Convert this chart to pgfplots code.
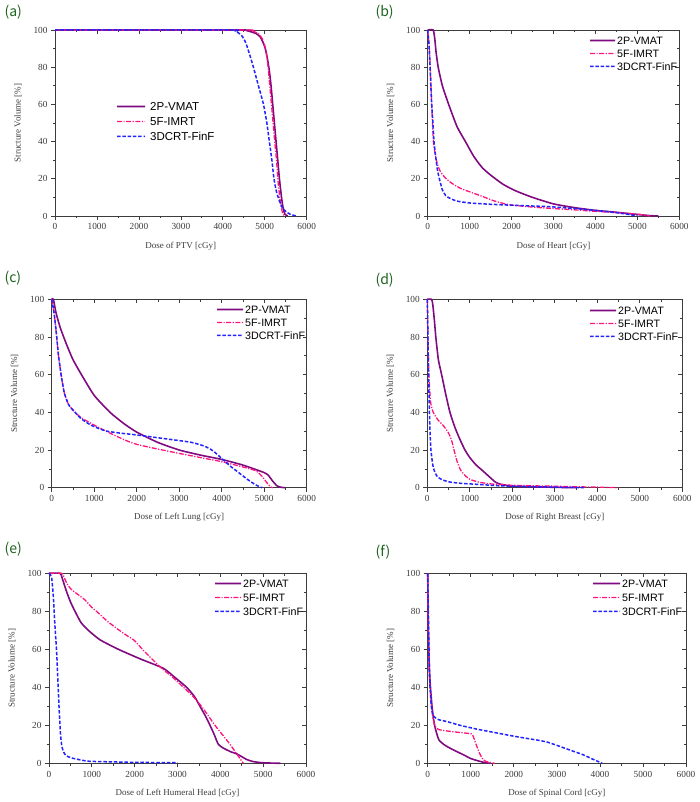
\documentclass[border=0pt]{standalone}
\usepackage{fontspec}
\setmainfont{Liberation Serif}
\newfontfamily\arial{Liberation Sans}
\newfontfamily\cjk{Noto Sans CJK SC}
\usepackage{pgfplots}
\pgfplotsset{compat=1.18}
\definecolor{cVMAT}{RGB}{128,10,128}
\definecolor{cIMRT}{RGB}{255,20,125}
\definecolor{cTD}{RGB}{35,35,255}
\definecolor{axgray}{RGB}{60,60,60}
\definecolor{labgreen}{RGB}{30,100,30}
\tikzset{
  vmat/.style={color=cVMAT, draw=cVMAT, line width=1.6pt, solid},
  imrt/.style={color=cIMRT, draw=cIMRT, line width=1.3pt, dash pattern=on 5pt off 1.5pt on 1.2pt off 1.5pt},
  tdc/.style={color=cTD, draw=cTD, line width=1.5pt, dash pattern=on 3.5pt off 1.8pt},
  legtext/.style={anchor=west, xshift=2pt, inner sep=0pt, text=black, font=\arial\fontsize{10.7}{12}\selectfont},
}
\pgfplotsset{
  base/.style={scale only axis, anchor=south west, xmin=0, xmax=6000, ymin=0, ymax=100,
    xtick={0,1000,...,6000}, ytick={0,20,...,100}, minor x tick num=1, minor y tick num=1,
    axis line style={draw=axgray, line width=0.8pt},
    every tick/.style={draw=axgray, line width=0.7pt},
    major tick length=4pt, minor tick length=2.5pt,
    /pgf/number format/1000 sep={}, /pgf/number format/assume math mode=true,
    scaled x ticks=false, no markers, clip=false},
  mainax/.style={base, xtick pos=left, ytick pos=left, tick align=outside,
    ticklabel style={font=\fontsize{9.3}{10}\selectfont, text=axgray},
    ylabel={Structure Volume [\%]},
    every axis y label/.style={at={([xshift=-37pt]axis description cs:0,0.5)}, rotate=90, anchor=center, font=\fontsize{9}{10}\selectfont, text=axgray},
    every axis x label/.style={at={([yshift=-30pt]axis description cs:0.5,0)}, anchor=center, font=\fontsize{9}{10}\selectfont, text=axgray}},
  overax/.style={base, xtick pos=right, ytick pos=right, tick align=inside,
    xticklabels={}, yticklabels={}},
  legax/.style={scale only axis, anchor=south west, xmin=0, xmax=1, ymin=0, ymax=2,
    hide axis, clip=false, no markers},
}
\newcommand\plab[1]{{\cjk\fontsize{14}{15}\selectfont #1}}
\newcommand\legplots{%
\addplot[vmat, smooth] coordinates {(0,2)(0.5,2.001)(1,2)};
\addplot[imrt, smooth] coordinates {(0,1)(0.5,1.001)(1,1)};
\addplot[tdc, smooth] coordinates {(0,0)(0.5,0.001)(1,0)};}
\begin{document}
\begin{tikzpicture}
\path[use as bounding box] (0,0) rectangle (700pt,802pt);
% ---------------- (a)
\node[anchor=west, text=labgreen] at (1pt,790pt) {\plab{(a)}};
\begin{axis}[overax, at={(55pt,586pt)}, width=251.7pt, height=186pt]\end{axis}
\begin{axis}[mainax, at={(55pt,586pt)}, width=251.7pt, height=186pt,
  xlabel={Dose of PTV [cGy]}]
\addplot[vmat, smooth, tension=0.35] coordinates {(0,100)(4400,100)(4600,99.5)(4800,98)(4900,96)(5000,91)(5060,85)(5110,78)(5150,70)(5190,60)(5230,50)(5270,40)(5310,30)(5350,20)(5400,10)(5440,4)(5480,1)(5550,0)};
\addplot[imrt, smooth, tension=0.35] coordinates {(0,100)(4500,100)(4700,99.5)(4850,98)(4950,95)(5030,89)(5080,80)(5140,65)(5180,55)(5230,42)(5280,30)(5320,18)(5370,8)(5420,2)(5470,0)};
\addplot[tdc, smooth, tension=0.35] coordinates {(0,100)(4200,100)(4300,99.5)(4450,97)(4550,93)(4650,86)(4730,80)(4850,70)(4970,60)(5050,50)(5110,40)(5170,30)(5220,20)(5280,13)(5350,8)(5420,4.5)(5500,2.5)(5600,1)(5700,0.3)(5760,0)};
\end{axis}
\begin{axis}[legax, at={(117pt,665.5pt)}, width=28pt, height=30pt]
\legplots
\node[legtext, font=\arial\fontsize{11.5}{13}\selectfont, xshift=3pt] at (axis cs:1,2) {2P-VMAT};
\node[legtext, font=\arial\fontsize{11.5}{13}\selectfont, xshift=3pt] at (axis cs:1,1) {5F-IMRT};
\node[legtext, font=\arial\fontsize{11.5}{13}\selectfont, xshift=3pt] at (axis cs:1,0) {3DCRT-FinF};
\end{axis}
% ---------------- (b)
\node[anchor=west, text=labgreen] at (372pt,790pt) {\plab{(b)}};
\begin{axis}[overax, at={(427.7pt,586pt)}, width=251.6pt, height=186pt]\end{axis}
\begin{axis}[mainax, at={(427.7pt,586pt)}, width=251.6pt, height=186pt,
  xlabel={Dose of Heart [cGy]}]
\addplot[vmat, smooth, tension=0.35] coordinates {(0,100)(130,100)(170,95)(200,88)(250,80)(350,70)(500,60)(700,48)(900,40)(1100,32)(1300,26)(1500,22)(1800,17)(2100,13.5)(2500,10)(3000,6.5)(3500,4.5)(4000,3)(4500,2)(5000,0.8)(5300,0.2)(5500,0)};
\addplot[imrt, smooth, tension=0.35] coordinates {(0,100)(40,90)(70,75)(95,60)(115,50)(135,40)(180,33)(230,28)(300,24)(400,21)(550,18)(770,15)(1000,13)(1330,10.3)(1600,8)(1960,6)(2500,4.8)(3000,4)(3500,3.3)(4000,2.5)(4500,1.8)(5000,1)(5300,0)};
\addplot[tdc, smooth, tension=0.35] coordinates {(0,100)(30,92)(55,80)(95,60)(125,50)(150,40)(190,32)(230,25)(278,20)(350,14)(430,11)(530,9.5)(700,8)(1000,7)(1500,6.3)(2000,5.8)(2900,5)(3500,4)(4000,3)(4500,1.8)(4800,0.8)(5000,0)};
\end{axis}
\begin{axis}[legax, at={(590pt,735.5pt)}, width=25pt, height=26pt]
\legplots
\node[legtext] at (axis cs:1,2) {2P-VMAT};
\node[legtext] at (axis cs:1,1) {5F-IMRT};
\node[legtext] at (axis cs:1,0) {3DCRT-FinF};
\end{axis}
% ---------------- (c)
\node[anchor=west, text=labgreen] at (1pt,524pt) {\plab{(c)}};
\begin{axis}[overax, at={(51.7pt,314.3pt)}, width=255pt, height=188.4pt]\end{axis}
\begin{axis}[mainax, at={(51.7pt,314.3pt)}, width=255pt, height=188.4pt,
  xlabel={Dose of Left Lung [cGy]}]
\addplot[vmat, smooth, tension=0.35] coordinates {(0,100)(40,100)(100,93)(200,85)(350,76)(500,68)(700,60)(1000,49)(1373,40)(1700,34)(2000,29.5)(2500,24)(3000,20)(3500,17.3)(4000,15)(4500,12)(5000,8)(5100,6.5)(5200,3.5)(5300,1)(5400,0.2)(5500,0)};
\addplot[imrt, smooth, tension=0.35] coordinates {(0,100)(60,92)(118,80)(160,70)(235,58)(300,50)(400,44)(550,40)(700,37)(900,34.5)(1100,32)(1370,29)(1700,25.5)(2000,23)(2500,20.5)(3000,18.2)(3500,16)(4000,13.8)(4500,11)(4800,9)(4950,6)(5050,3)(5150,0.5)(5200,0)};
\addplot[tdc, smooth, tension=0.35] coordinates {(0,100)(60,92)(118,80)(160,70)(235,58)(300,50)(400,44)(550,40)(700,36.5)(900,33.5)(1100,31.5)(1300,30)(1600,29)(2000,28)(2500,26.5)(3000,25)(3300,24)(3600,22)(3800,19.5)(4000,15.5)(4200,11.5)(4400,8)(4600,4.5)(4800,1.5)(4950,0)};
\end{axis}
\begin{axis}[legax, at={(217pt,466.5pt)}, width=26pt, height=26pt]
\legplots
\node[legtext] at (axis cs:1,2) {2P-VMAT};
\node[legtext] at (axis cs:1,1) {5F-IMRT};
\node[legtext] at (axis cs:1,0) {3DCRT-FinF};
\end{axis}
% ---------------- (d)
\node[anchor=west, text=labgreen] at (372pt,522pt) {\plab{(d)}};
\begin{axis}[overax, at={(427.3pt,314.3pt)}, width=255pt, height=188.4pt]\end{axis}
\begin{axis}[mainax, at={(427.3pt,314.3pt)}, width=255pt, height=188.4pt,
  xlabel={Dose of Right Breast [cGy]}]
\addplot[vmat, smooth, tension=0.35] coordinates {(0,100)(100,100)(130,97)(170,88)(200,80)(260,68)(337,60)(430,50)(533,40)(650,32)(760,26)(886,20)(1000,16)(1150,12)(1278,9.5)(1450,6)(1600,3)(1700,2)(1867,1.2)(2000,0.8)(2500,0.5)(3000,0.2)(3500,0)};
\addplot[imrt, smooth, tension=0.35] coordinates {(0,100)(10,90)(25,70)(40,58)(80,45)(140,40)(250,36)(376,33)(500,29)(573,25)(640,19)(700,14)(780,9.5)(886,6.5)(1000,4.5)(1200,3)(1500,2)(2000,1.3)(2500,1)(3000,0.8)(3500,0.5)(4000,0.3)(4500,0)};
\addplot[tdc, smooth, tension=0.35] coordinates {(0,100)(15,80)(30,60)(45,45)(63,30)(85,20)(130,12)(180,8)(250,5.5)(376,4)(533,3)(800,2.3)(1160,1.8)(1700,1)(2500,0.5)(3000,0.3)(3700,0)};
\end{axis}
\begin{axis}[legax, at={(590pt,465.5pt)}, width=26pt, height=26pt]
\legplots
\node[legtext] at (axis cs:1,2) {2P-VMAT};
\node[legtext] at (axis cs:1,1) {5F-IMRT};
\node[legtext] at (axis cs:1,0) {3DCRT-FinF};
\end{axis}
% ---------------- (e)
\node[anchor=west, text=labgreen] at (1pt,253pt) {\plab{(e)}};
\begin{axis}[overax, at={(49pt,38.7pt)}, width=257pt, height=190pt]\end{axis}
\begin{axis}[mainax, at={(49pt,38.7pt)}, width=257pt, height=190pt,
  xlabel={Dose of Left Humeral Head [cGy]}]
\addplot[vmat, smooth, tension=0.35] coordinates {(0,100)(257,100)(300,98)(400,91)(500,85)(607,80)(750,74)(918,70)(1190,65)(1619,60)(2125,55)(2669,50)(2950,45)(3214,40)(3400,35)(3525,30)(3650,25)(3759,20)(3860,15)(3953,10)(4070,8)(4250,6)(4381,5)(4500,3.5)(4615,2)(4750,1)(4926,0.4)(5200,0.1)(5400,0)};
\addplot[imrt, smooth, tension=0.35] coordinates {(0,100)(300,100)(350,98)(410,95)(500,92)(607,90)(840,86)(1000,82)(1110,80)(1350,75)(1580,71)(1800,67.5)(2000,64.5)(2200,59.5)(2400,55)(2630,50)(2900,45)(3140,40)(3370,35)(3560,30)(3720,25)(3875,20)(4050,15)(4226,10)(4381,5)(4537,0)};
\addplot[tdc, smooth, tension=0.35] coordinates {(0,100)(60,98)(100,88)(140,72)(180,58)(210,42)(240,27)(270,15)(300,9)(340,6)(400,4)(530,2.8)(800,1.5)(1000,1)(2000,0.5)(3000,0.3)};
\end{axis}
\begin{axis}[legax, at={(215pt,190.5pt)}, width=26pt, height=28pt]
\legplots
\node[legtext] at (axis cs:1,2) {2P-VMAT};
\node[legtext] at (axis cs:1,1) {5F-IMRT};
\node[legtext] at (axis cs:1,0) {3DCRT-FinF};
\end{axis}
% ---------------- (f)
\node[anchor=west, text=labgreen] at (372pt,250pt) {\plab{(f)}};
\begin{axis}[overax, at={(427.7pt,38.7pt)}, width=258.3pt, height=190pt]\end{axis}
\begin{axis}[mainax, at={(427.7pt,38.7pt)}, width=258.3pt, height=190pt,
  xlabel={Dose of Spinal Cord [cGy]}]
\addplot[vmat, smooth, tension=0.35] coordinates {(0,100)(10,80)(20,65)(30,55)(50,45)(70,38)(100,30)(130,24)(170,19)(225,14.5)(270,12)(400,9.5)(600,7)(830,4.5)(1000,2.5)(1215,1)(1350,0.3)(1450,0)};
\addplot[imrt, smooth, tension=0.35] coordinates {(0,100)(10,78)(20,62)(35,48)(60,38)(90,30)(115,25)(160,20)(250,17.8)(520,16.8)(830,16)(1020,15.5)(1060,14)(1100,11.5)(1140,9)(1200,5.5)(1270,2.5)(1350,1)(1450,0.4)(1560,0)};
\addplot[tdc, smooth, tension=0.35] coordinates {(0,100)(15,80)(30,60)(45,45)(55,40)(85,30)(130,25)(250,23)(440,22)(750,20)(1140,18)(1600,16)(2065,14)(2600,12)(2800,11)(2995,9.5)(3300,7)(3610,4.5)(3850,2)(4055,0)};
\end{axis}
\begin{axis}[legax, at={(593pt,190.5pt)}, width=27pt, height=28pt]
\legplots
\node[legtext] at (axis cs:1,2) {2P-VMAT};
\node[legtext] at (axis cs:1,1) {5F-IMRT};
\node[legtext] at (axis cs:1,0) {3DCRT-FinF};
\end{axis}
\end{tikzpicture}
\end{document}
